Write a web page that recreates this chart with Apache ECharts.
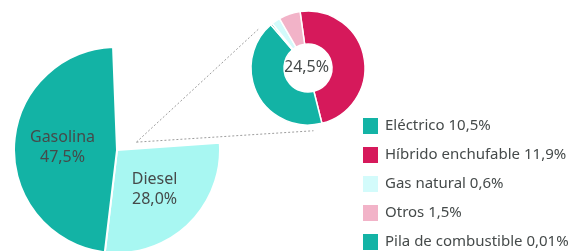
<!DOCTYPE html>
<html>
<head>
<meta charset="utf-8">
<script src="https://cdn.jsdelivr.net/npm/echarts@6/dist/echarts.min.js"></script>
<style>
  html, body { margin: 0; padding: 0; background: #fff; }
  #chart { width: 586px; height: 251px; }
</style>
</head>
<body>
<div id="chart"></div>
<script>
// datos: reparto general (el "resto" se desglosa en el anillo)
var mainNames = ['Diesel', 'Gasolina', 'Resto'];
var mainValues = [28.0, 47.5, 24.5];

// desglose del resto, en el orden en que se dibuja el anillo (sentido horario)
var altNames = ['Híbrido enchufable', 'Eléctrico', 'Pila de combustible', 'Gas natural', 'Otros'];
var altValues = [11.9, 10.5, 0.01, 0.6, 1.5];

// orden de la leyenda
var legendOrder = ['Eléctrico', 'Híbrido enchufable', 'Gas natural', 'Otros', 'Pila de combustible'];

var TEAL = '#13b3a5';
var mainColors = ['#a8f7f2', TEAL, 'rgba(0,0,0,0)'];
var altColors = ['#d6195b', TEAL, TEAL, '#d3fbfb', '#f2b3c8'];

var FONT = 'Noto Sans';
var TXT = '#454a4a';

// geometría
var pieCenter = [117, 150], pieR = 103;
var ringCenter = [308, 68], ringR = [24, 57];

function coma(v, dec) {
    var s = dec == null ? String(v) : v.toFixed(dec);
    return s.replace('.', ',');
}

var chart = echarts.init(document.getElementById('chart'));

var mainData = mainNames.map(function(n, i) {
    var d = { name: n, value: mainValues[i], itemStyle: { color: mainColors[i] } };
    if (i === 2) {
        d.label = { show: false };
        d.itemStyle.borderWidth = 0;
    }
    return d;
});

var altData = altNames.map(function(n, i) {
    return { name: n, value: altValues[i], itemStyle: { color: altColors[i] } };
});

// líneas punteadas que unen el hueco con el anillo
var rad = Math.PI / 180;
var startPt = [pieCenter[0] + 21 * Math.cos(22 * rad), pieCenter[1] - 21 * Math.sin(22 * rad)];
function ringPt(angle) {
    return [ringCenter[0] + 63 * Math.cos(angle * rad), ringCenter[1] - 63 * Math.sin(angle * rad)];
}
var endA = ringPt(142), endB = ringPt(-85);

var option = {
    animation: false,
    legend: {
        data: legendOrder,
        orient: 'vertical',
        left: 361,
        top: 116,
        height: 160,
        padding: 0,
        icon: 'rect',
        itemWidth: 17,
        itemHeight: 18,
        itemGap: 9,
        selectedMode: false,
        textStyle: { color: TXT, fontSize: 15, lineHeight: 18, fontFamily: FONT, padding: [0, 0, 0, 1] },
        formatter: function(name) {
            return name + ' ' + coma(altValues[altNames.indexOf(name)]) + '%';
        }
    },
    graphic: [
        { type: 'line', shape: { x1: startPt[0], y1: startPt[1], x2: endA[0], y2: endA[1] },
          style: { stroke: '#9c9c9c', lineWidth: 1, lineDash: [2, 2] }, silent: true },
        { type: 'line', shape: { x1: startPt[0], y1: startPt[1], x2: endB[0], y2: endB[1] },
          style: { stroke: '#9c9c9c', lineWidth: 1, lineDash: [2, 2] }, silent: true },
        { type: 'text', left: ringCenter[0] - 24, top: ringCenter[1] - 9,
          style: { text: coma(mainValues[2], 1) + '%', width: 48, align: 'center',
                   fill: TXT, fontSize: 16, fontFamily: FONT } }
    ],
    series: [
        {
            type: 'pie',
            center: pieCenter,
            radius: pieR,
            startAngle: 4,
            clockwise: true,
            emphasis: { disabled: true },
            itemStyle: { borderColor: '#fff', borderWidth: 2 },
            label: {
                show: true,
                position: 'inside',
                color: TXT,
                fontSize: 16,
                lineHeight: 20,
                fontFamily: FONT,
                formatter: function(p) { return p.name + '\n' + coma(p.value, 1) + '%'; }
            },
            labelLine: { show: false },
            data: mainData
        },
        {
            type: 'pie',
            center: ringCenter,
            radius: ringR,
            startAngle: 98,
            clockwise: true,
            minAngle: 2,
            emphasis: { disabled: true },
            itemStyle: { borderColor: '#fff', borderWidth: 1.5 },
            label: { show: false },
            labelLine: { show: false },
            data: altData
        }
    ]
};

chart.setOption(option);
</script>
</body>
</html>
